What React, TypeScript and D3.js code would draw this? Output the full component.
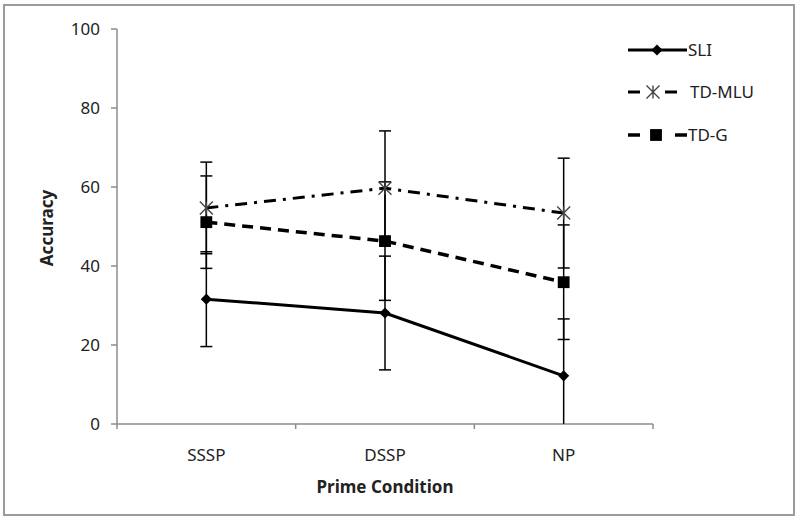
import React from "react";
import * as d3 from "d3";

const categories = ["SSSP", "DSSP", "NP"];
const sliValues = [31.6, 28.1, 12.2];
const sliErrors = [12, 14.4, 14.4];
const mluValues = [54.7, 59.7, 53.4];
const mluErrors = [11.6, 14.5, 13.9];
const tdgValues = [51.1, 46.3, 35.9];
const tdgErrors = [11.7, 15, 14.5];
const yTicks = [0, 20, 40, 60, 80, 100];
const seriesNames = ["SLI", "TD-MLU", "TD-G"];

const W = 800;
const H = 523;
const FONT = "'Noto Sans', 'Open Sans', sans-serif";

type Series = {
  name: string;
  values: number[];
  errors: number[];
  dash: string | undefined;
  width: number;
  marker: "diamond" | "star" | "square";
};

const series: Series[] = [
  { name: seriesNames[0], values: sliValues, errors: sliErrors, dash: undefined, width: 3, marker: "diamond" },
  { name: seriesNames[1], values: mluValues, errors: mluErrors, dash: "12 7 3 7", width: 3, marker: "star" },
  { name: seriesNames[2], values: tdgValues, errors: tdgErrors, dash: "11 7", width: 3.5, marker: "square" },
];

function Marker({ kind, x, y }: { kind: string; x: number; y: number }) {
  if (kind === "diamond") {
    const p = d3.symbol(d3.symbolSquare, 62)();
    return <path d={p || ""} transform={`translate(${x},${y}) rotate(45)`} fill="#000" />;
  }
  if (kind === "square") {
    const p = d3.symbol(d3.symbolSquare, 140)();
    return <path d={p || ""} transform={`translate(${x},${y})`} fill="#000" />;
  }
  const r = 6.5;
  const path = d3.path();
  path.moveTo(-r, -r);
  path.lineTo(r, r);
  path.moveTo(-r, r);
  path.lineTo(r, -r);
  path.moveTo(0, -r);
  path.lineTo(0, r);
  return (
    <path d={path.toString()} transform={`translate(${x},${y})`} stroke="#444" strokeWidth={1.4} fill="none" />
  );
}

export default function App() {
  const x = d3.scaleBand<string>().domain(categories).range([117, 653]).padding(0);
  const y = d3.scaleLinear().domain([0, 100]).range([424, 29]);
  const cx = (c: string) => (x(c) as number) + x.bandwidth() / 2;
  const boundaries = [...categories.map((c) => x(c) as number), x.range()[1]];
  const axisColor = "#8c8c8c";
  const textColor = "#222";

  const lineGen = d3
    .line<number>()
    .x((_, i) => cx(categories[i]))
    .y((d) => y(d));

  const legendY = [50, 92, 135];

  return (
    <svg
      width={W}
      height={H}
      style={{ position: "absolute", left: 0, top: 0, background: "#fff" }}
      fontFamily={FONT}
    >
      <rect x={0} y={0} width={W} height={H} fill="#fff" />
      <rect x={4} y={5} width={790} height={510} fill="#fff" stroke="#9a9a9a" strokeWidth={2} />

      {/* Y axis */}
      <line x1={x.range()[0]} x2={x.range()[0]} y1={y(0)} y2={y(100)} stroke={axisColor} strokeWidth={1.5} />
      {yTicks.map((t) => (
        <g key={t}>
          <line x1={x.range()[0] - 6} x2={x.range()[0]} y1={y(t)} y2={y(t)} stroke={axisColor} strokeWidth={1.5} />
          <text x={100} y={y(t)} dy="0.35em" textAnchor="end" fontSize={17} fill={textColor}>
            {t}
          </text>
        </g>
      ))}

      {/* X axis */}
      <line x1={x.range()[0]} x2={x.range()[1]} y1={y(0)} y2={y(0)} stroke={axisColor} strokeWidth={1.5} />
      {boundaries.map((b, i) => (
        <line key={i} x1={b} x2={b} y1={y(0)} y2={y(0) + 5} stroke={axisColor} strokeWidth={1.5} />
      ))}
      {categories.map((c) => (
        <text key={c} x={cx(c)} y={455} dy="0.35em" textAnchor="middle" fontSize={17} fill={textColor}>
          {c}
        </text>
      ))}

      <text x={385} y={487} dy="0.35em" textAnchor="middle" fontSize={17} fontWeight="bold" fill={textColor}>
        Prime Condition
      </text>
      <text
        transform={`translate(47,228) rotate(-90)`}
        dy="0.35em"
        textAnchor="middle"
        fontSize={17}
        fontWeight="bold"
        fill={textColor}
      >
        Accuracy
      </text>

      {/* Lines */}
      {series.map((s) => (
        <path
          key={s.name}
          d={lineGen(s.values) || ""}
          fill="none"
          stroke="#000"
          strokeWidth={s.width}
          strokeDasharray={s.dash}
        />
      ))}

      {/* Error bars */}
      {series.map((s) =>
        s.values.map((v, i) => {
          const px = cx(categories[i]);
          const hiV = v + s.errors[i];
          const loRaw = v - s.errors[i];
          const loV = Math.max(0, loRaw);
          return (
            <g key={s.name + i} stroke="#000" strokeWidth={1.5}>
              <line x1={px} x2={px} y1={y(hiV)} y2={y(loV)} />
              <line x1={px - 6} x2={px + 6} y1={y(hiV)} y2={y(hiV)} />
              {loRaw >= 0 && <line x1={px - 6} x2={px + 6} y1={y(loV)} y2={y(loV)} />}
            </g>
          );
        })
      )}

      {/* Markers */}
      {series.map((s) =>
        s.values.map((v, i) => <Marker key={s.name + "m" + i} kind={s.marker} x={cx(categories[i])} y={y(v)} />)
      )}

      {/* Legend */}
      <g>
        <line x1={628} x2={687} y1={legendY[0]} y2={legendY[0]} stroke="#000" strokeWidth={3} />
        <Marker kind="diamond" x={657} y={legendY[0]} />
        <line x1={628} x2={640} y1={legendY[1]} y2={legendY[1]} stroke="#000" strokeWidth={3} />
        <line x1={665} x2={677} y1={legendY[1]} y2={legendY[1]} stroke="#000" strokeWidth={3} />
        <Marker kind="star" x={653} y={legendY[1]} />
        <line x1={628} x2={640} y1={legendY[2]} y2={legendY[2]} stroke="#000" strokeWidth={3.5} />
        <line x1={675} x2={687} y1={legendY[2]} y2={legendY[2]} stroke="#000" strokeWidth={3.5} />
        <Marker kind="square" x={656} y={legendY[2]} />
        {series.map((s, i) => (
          <text key={s.name} x={i === 1 ? 690 : 688} y={legendY[i]} dy="0.35em" fontSize={17} fill={textColor}>
            {s.name}
          </text>
        ))}
      </g>
    </svg>
  );
}
